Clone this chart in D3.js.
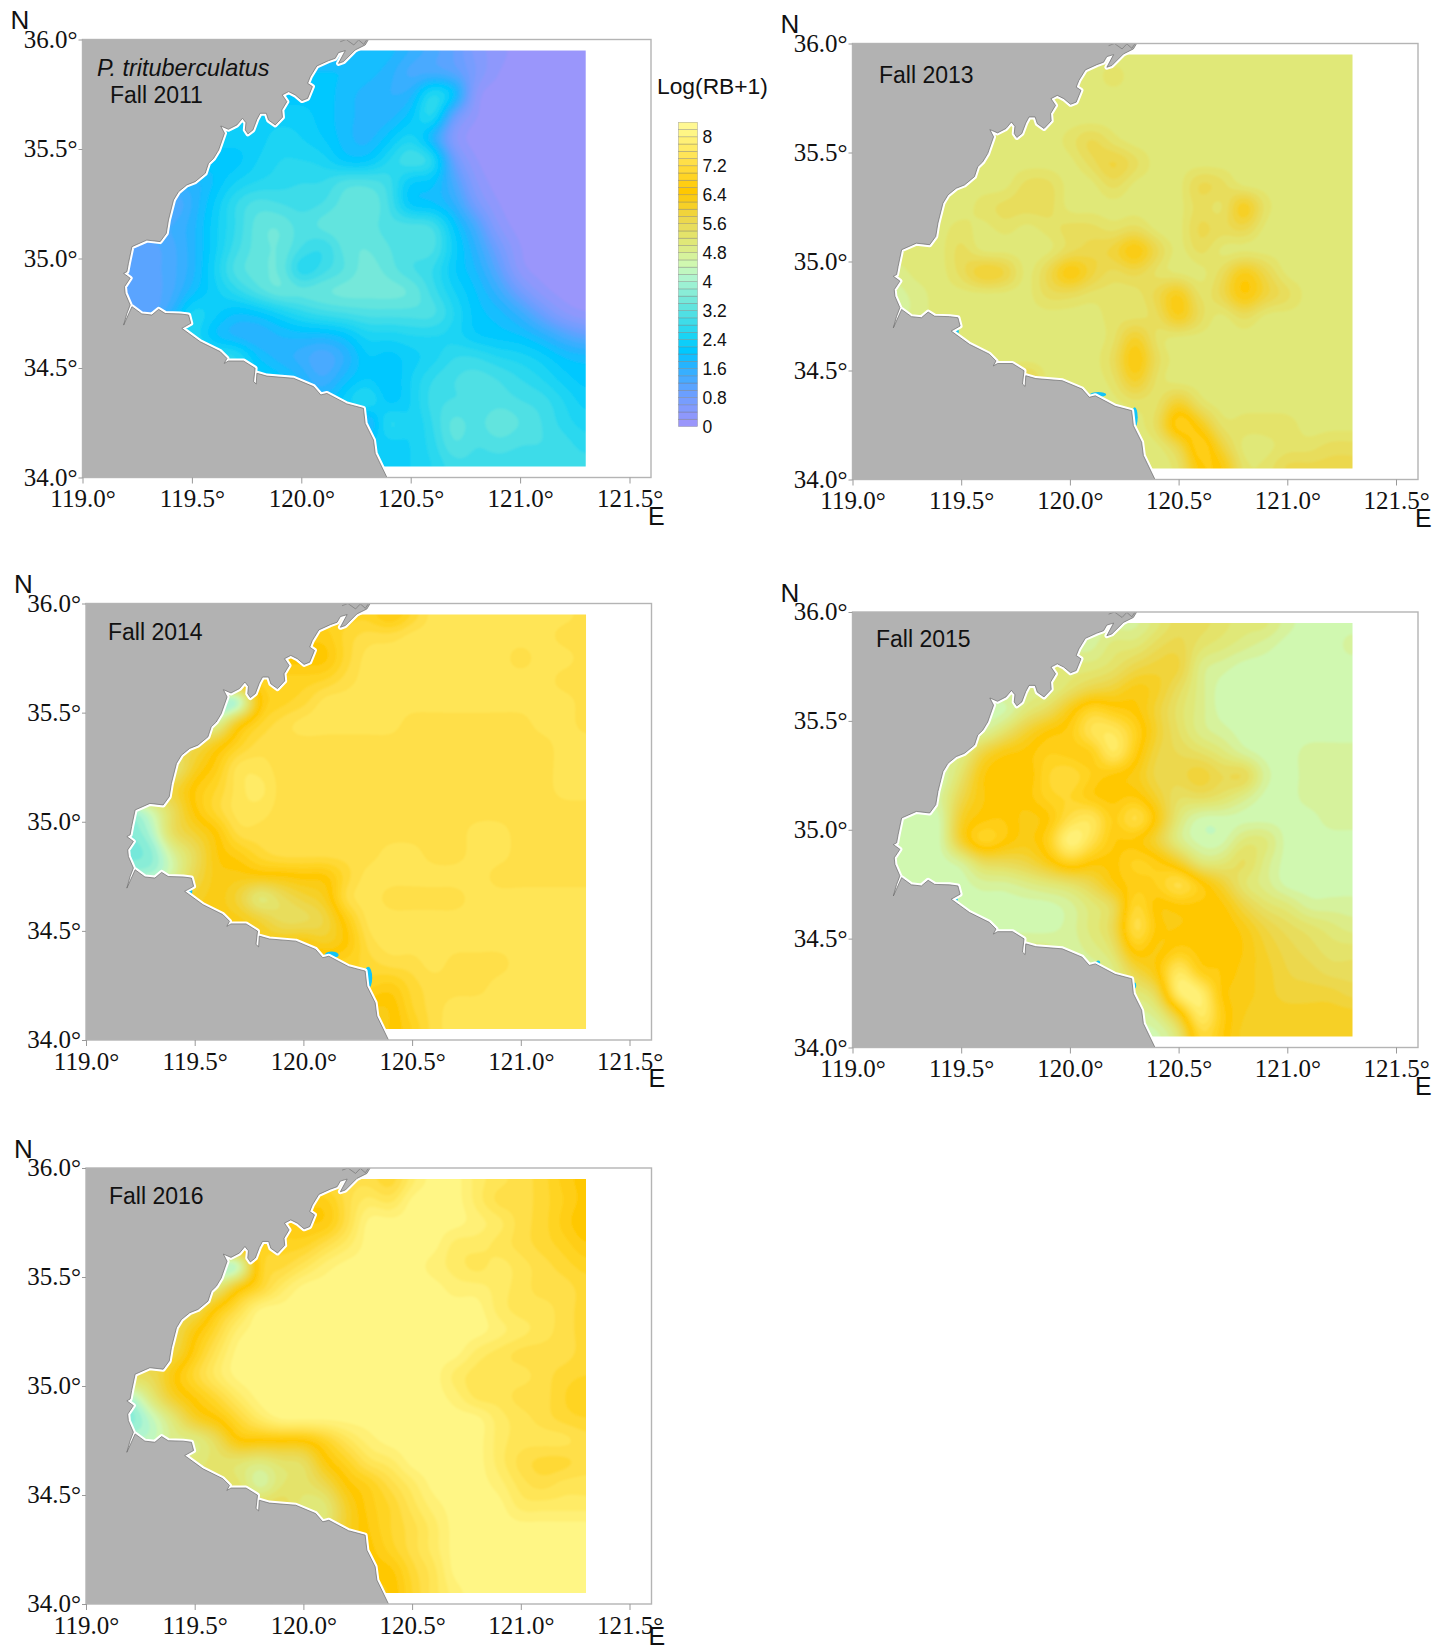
<!DOCTYPE html>
<html>
<head>
<meta charset="utf-8">
<script src="https://cdn.jsdelivr.net/npm/d3@7"></script>
<style>
body { margin: 0; background: #fff; }
svg { display: block; }
</style>
</head>
<body>
<div id="chart"></div>
<script>
let width = 1447;
let height = 1650;

// grid nodes, 0.1 deg apart
const gridStepDeg = 0.1;
const gridLon0 = 119.0;
const gridLat0 = 35.95;

// Log(RB+1), rows north to south, columns 119.0 to 121.3 (land cells repeat the nearest sea value)
const fall2011 = [
[1.8,1.8,1.8,1.8,1.8,1.8,1.8,1.8,1.8,1.8,1.8,1.8,1.8,1.8,1.8,1.5,1.2,0.9,0.4,0.2,0,0,0,0],
[1.9,1.9,1.9,1.9,1.9,1.9,1.9,1.9,1.9,1.9,1.9,1.9,1.9,1.8,1.6,1.2,1.2,1.0,0.5,0.1,0,0,0,0],
[2.0,2.0,2.0,2.0,2.0,2.0,2.0,2.0,2.0,2.0,2.0,2.0,1.8,1.6,1.5,1.6,2.6,2.0,0.2,0,0,0,0,0],
[2.2,2.2,2.2,2.2,2.2,2.2,2.2,2.2,2.2,2.2,2.2,2.0,1.8,1.6,1.6,2.0,2.6,0.8,0.1,0,0,0,0,0],
[2.2,2.2,2.2,2.2,2.2,2.2,2.2,2.2,2.2,2.4,2.3,2.1,1.8,1.6,2.0,2.4,1.6,0.3,0,0,0,0,0,0],
[2.0,2.0,2.0,2.0,2.0,2.0,2.0,2.0,2.3,2.5,2.5,2.4,2.0,2.0,2.5,2.9,2.6,0.8,0.1,0,0,0,0,0],
[1.6,1.6,1.6,1.6,1.6,1.6,1.9,2.3,2.5,2.6,2.7,2.7,3.0,3.0,2.8,2.1,2.0,1.2,0.3,0,0,0,0,0],
[1.0,1.0,1.0,1.0,1.0,1.5,2.1,2.7,3.0,2.9,2.8,2.9,3.2,3.3,2.9,2.0,1.9,1.5,0.6,0.1,0,0,0,0],
[1.3,1.3,1.3,1.3,1.3,1.6,2.2,2.7,3.2,3.3,3.0,3.2,3.3,3.2,3.0,3.0,2.9,2.0,1.2,0.3,0,0,0,0],
[1.0,1.0,1.0,1.0,1.2,1.6,2.2,2.8,3.2,3.3,2.9,2.7,3.2,3.3,3.1,3.0,3.0,2.2,1.5,0.7,0.1,0,0,0],
[1.0,1.0,1.0,1.0,1.2,1.6,2.3,3.0,3.2,3.3,2.5,2.8,3.1,3.4,3.2,2.9,2.7,2.1,1.7,1.0,0.2,0,0,0],
[1.0,1.0,1.0,1.0,1.2,1.8,2.2,2.6,3.0,3.3,3.2,3.3,3.4,3.4,3.4,3.3,2.8,2.3,1.9,1.4,0.7,0.2,0,0],
[1.0,1.0,1.0,1.0,1.5,2.4,2.2,1.9,2.0,2.3,2.6,2.8,2.9,3.0,3.0,3.0,3.0,2.5,2.0,1.8,1.4,0.8,0.3,0.1],
[2.5,2.5,2.5,2.5,2.5,2.5,1.9,1.6,1.5,1.7,1.8,1.8,2.0,2.4,2.4,2.5,2.5,2.4,2.1,2.0,1.9,1.6,1.2,0.9],
[2.6,2.6,2.6,2.6,2.6,2.6,2.6,2.6,1.9,1.6,1.4,1.1,1.5,2.1,2.0,2.2,2.4,2.7,2.7,2.5,2.4,2.2,1.9,1.8],
[2.2,2.2,2.2,2.2,2.2,2.2,2.2,2.2,2.2,2.0,1.7,1.3,1.8,2.1,1.9,2.3,2.7,2.9,3.0,2.9,2.7,2.5,2.2,2.0],
[1.8,1.8,1.8,1.8,1.8,1.8,1.8,1.8,1.8,1.8,1.8,1.8,2.2,2.6,2.0,2.3,2.8,2.9,2.9,3.0,2.9,2.8,2.5,2.2],
[2.0,2.0,2.0,2.0,2.0,2.0,2.0,2.0,2.0,2.0,2.0,2.0,2.0,1.5,2.6,2.3,2.7,3.2,3.0,3.3,3.1,2.9,2.6,2.4],
[2.2,2.2,2.2,2.2,2.2,2.2,2.2,2.2,2.2,2.2,2.2,2.2,2.2,2.2,2.2,2.3,2.6,3.1,2.9,3.0,2.9,2.9,2.8,2.6],
[2.2,2.2,2.2,2.2,2.2,2.2,2.2,2.2,2.2,2.2,2.2,2.2,2.2,2.2,2.2,2.3,2.5,2.8,2.8,2.8,2.8,2.8,2.8,2.8]
];

const fall2013 = [
[5.0,5.0,5.0,5.0,5.0,5.0,5.0,5.0,5.0,5.0,5.0,5.0,5.0,5.0,5.0,5.0,5.0,5.0,5.0,5.0,5.0,5.0,5.0,5.0],
[5.0,5.0,5.0,5.0,5.0,5.0,5.0,5.0,5.0,5.0,5.0,5.0,5.2,5.0,5.0,5.0,5.0,5.0,5.0,5.0,5.0,5.0,5.0,5.0],
[5.0,5.0,5.0,5.0,5.0,5.0,5.0,5.0,5.0,5.0,5.0,5.0,5.0,5.0,5.0,5.0,5.0,5.0,5.0,5.0,5.0,5.0,5.0,5.0],
[5.0,5.0,5.0,5.0,5.0,5.0,5.0,5.0,5.0,5.0,5.0,5.0,5.0,5.0,5.0,5.0,5.0,5.0,5.0,5.0,5.0,5.0,5.0,5.0],
[5.0,5.0,5.0,5.0,5.0,5.0,5.0,5.0,5.0,5.0,5.2,5.6,5.2,5.0,5.0,5.0,5.0,5.0,5.0,5.0,5.0,5.0,5.0,5.0],
[5.0,5.0,5.0,5.0,5.0,5.0,5.0,5.0,5.0,5.0,5.0,5.4,5.8,5.4,5.0,5.0,5.0,5.0,5.0,5.0,5.0,5.0,5.0,5.0],
[5.0,5.0,5.0,5.0,5.0,5.0,5.0,5.0,5.4,5.4,5.0,5.0,5.4,5.0,5.0,5.0,5.6,5.4,5.0,5.0,5.0,5.0,5.0,5.0],
[5.0,5.0,5.0,5.0,5.0,5.0,5.2,5.4,5.4,5.4,5.0,5.0,5.0,5.0,5.0,5.0,5.4,5.2,6.2,5.2,5.0,5.0,5.0,5.0],
[5.0,5.0,5.0,5.0,5.0,5.2,5.0,5.2,5.0,5.2,5.4,5.4,5.2,5.4,5.0,5.0,5.6,5.4,5.6,5.0,5.0,5.0,5.0,5.0],
[5.0,5.0,5.0,5.0,5.0,5.4,5.0,5.0,5.0,5.0,5.4,5.6,5.8,6.4,5.6,5.0,5.4,5.0,5.0,5.0,5.0,5.0,5.0,5.0],
[5.0,5.0,4.8,5.0,5.0,5.4,6.0,5.8,5.0,5.6,6.4,5.8,5.4,5.6,5.2,5.0,5.0,5.4,6.2,5.6,5.0,5.0,5.0,5.0],
[4.6,4.6,4.6,4.8,5.0,5.0,5.0,5.0,5.0,5.4,5.4,5.2,5.2,5.2,5.6,6.2,5.2,5.6,6.4,5.8,5.4,5.0,5.0,5.0],
[4.6,4.6,4.6,4.8,5.0,5.0,5.0,5.0,5.0,5.0,5.0,5.0,5.2,5.2,5.4,6.2,5.4,5.0,5.4,5.0,5.0,5.0,5.0,5.0],
[5.0,5.0,5.0,5.0,5.0,5.0,5.0,5.0,5.0,5.0,5.0,5.0,5.2,6.0,5.2,5.0,5.0,5.0,5.0,5.0,5.0,5.0,5.0,5.0],
[5.0,5.0,5.0,5.0,5.0,5.0,5.0,5.0,5.0,5.0,5.0,5.0,5.4,6.4,5.4,5.0,5.0,5.0,5.0,5.0,5.0,5.0,5.0,5.0],
[5.0,5.0,5.0,5.0,5.0,5.0,5.0,5.2,5.8,5.0,5.0,5.0,5.2,6.0,5.2,5.0,5.0,5.0,5.0,5.0,5.0,5.0,5.0,5.0],
[5.0,5.0,5.0,5.0,5.0,5.0,5.0,5.0,5.0,5.0,5.0,5.0,5.0,5.2,5.2,6.0,5.2,5.0,5.0,5.0,5.0,5.0,5.0,5.0],
[5.0,5.0,5.0,5.0,5.0,5.0,5.0,5.0,5.0,5.0,5.0,5.0,5.0,5.0,5.4,6.8,6.2,5.2,5.2,5.2,5.2,5.0,5.0,5.0],
[5.0,5.0,5.0,5.0,5.0,5.0,5.0,5.0,5.0,5.0,5.0,5.0,5.0,5.0,5.0,5.6,6.8,5.8,5.0,5.0,5.2,5.2,5.4,5.4],
[5.0,5.0,5.0,5.0,5.0,5.0,5.0,5.0,5.0,5.0,5.0,5.0,5.0,5.0,5.0,5.2,6.4,6.4,5.2,5.2,5.6,5.6,5.6,5.6]
];

const fall2014 = [
[6.8,6.8,6.8,6.8,6.8,6.8,6.8,6.8,6.8,6.8,6.8,6.8,6.8,6.8,6.4,6.9,7.4,7.4,7.4,7.4,7.4,7.4,7.4,7.2],
[6.6,6.6,6.6,6.6,6.6,6.6,6.6,6.6,6.6,6.6,6.6,6.6,7.0,7.2,7.2,7.4,7.4,7.4,7.4,7.4,7.4,7.4,7.2,7.2],
[6.4,6.4,6.4,6.4,6.4,6.4,6.4,6.4,6.4,6.4,6.4,6.4,7.0,7.4,7.4,7.4,7.4,7.4,7.4,7.4,7.2,7.4,7.4,7.2],
[6.8,6.8,6.8,6.8,6.8,6.8,6.8,6.8,6.8,6.8,6.8,6.9,7.2,7.4,7.4,7.4,7.4,7.4,7.4,7.4,7.4,7.4,7.2,7.2],
[3.8,3.8,3.8,3.8,3.8,3.8,3.8,3.8,6.4,6.8,7.0,7.4,7.4,7.4,7.4,7.4,7.4,7.4,7.4,7.4,7.4,7.4,7.4,7.2],
[4.6,4.6,4.6,4.6,4.6,4.6,4.6,6.2,6.9,7.2,7.4,7.4,7.4,7.4,7.4,7.2,7.2,7.2,7.2,7.2,7.2,7.4,7.4,7.2],
[5.6,5.6,5.6,5.6,5.6,5.6,6.2,6.8,7.2,7.2,7.2,7.2,7.2,7.2,7.2,7.2,7.2,7.2,7.2,7.2,7.2,7.2,7.4,7.4],
[5.0,5.0,5.0,5.0,5.0,6.0,6.6,7.4,7.4,7.2,7.2,7.2,7.2,7.2,7.2,7.2,7.2,7.2,7.2,7.2,7.2,7.2,7.4,7.4],
[5.8,5.8,5.8,5.8,5.8,6.5,6.9,7.4,7.6,7.2,7.2,7.2,7.2,7.2,7.2,7.2,7.2,7.2,7.2,7.2,7.2,7.2,7.4,7.4],
[3.8,3.8,3.8,4.4,5.4,6.4,7.0,7.4,7.4,7.2,7.2,7.2,7.2,7.2,7.2,7.2,7.2,7.2,7.2,7.2,7.2,7.2,7.2,7.2],
[3.5,3.5,3.5,4.0,5.4,5.9,6.4,7.2,7.2,7.2,7.2,7.2,7.2,7.2,7.2,7.2,7.2,7.2,7.4,7.4,7.2,7.2,7.2,7.2],
[3.4,3.4,3.4,3.6,4.6,5.4,6.3,6.6,7.0,7.2,7.2,7.2,7.2,7.2,7.4,7.4,7.2,7.2,7.4,7.4,7.2,7.2,7.2,7.2],
[4.0,4.0,4.0,4.0,4.6,5.6,6.2,6.2,6.3,6.3,6.4,6.4,7.0,7.4,7.4,7.4,7.4,7.4,7.4,7.2,7.2,7.2,7.2,7.2],
[6.0,6.0,6.0,6.0,6.0,6.0,6.2,5.8,4.9,5.4,5.8,6.1,7.2,7.4,7.2,7.2,7.2,7.2,7.4,7.4,7.4,7.4,7.4,7.4],
[6.2,6.2,6.2,6.2,6.2,6.2,6.2,6.2,5.9,5.4,5.4,5.7,6.6,7.4,7.4,7.4,7.4,7.4,7.4,7.4,7.4,7.4,7.4,7.4],
[6.2,6.2,6.2,6.2,6.2,6.2,6.2,6.2,6.2,6.2,6.3,6.0,6.4,7.2,7.4,7.4,7.4,7.4,7.4,7.4,7.4,7.4,7.4,7.4],
[6.8,6.8,6.8,6.8,6.8,6.8,6.8,6.8,6.8,6.8,6.8,6.8,6.8,7.0,7.2,7.2,7.4,7.2,7.2,7.2,7.4,7.4,7.4,7.4],
[6.8,6.8,6.8,6.8,6.8,6.8,6.8,6.8,6.8,6.8,6.8,6.8,6.8,6.8,6.6,7.0,7.2,7.2,7.2,7.4,7.4,7.4,7.4,7.4],
[6.3,6.3,6.3,6.3,6.3,6.3,6.3,6.3,6.3,6.3,6.3,6.3,6.3,6.3,6.3,6.9,7.2,7.4,7.4,7.4,7.4,7.4,7.4,7.4],
[6.3,6.3,6.3,6.3,6.3,6.3,6.3,6.3,6.3,6.3,6.3,6.3,6.3,6.3,6.3,6.7,7.2,7.4,7.4,7.4,7.4,7.4,7.4,7.4]
];

const fall2015 = [
[4.6,4.6,4.6,4.6,4.6,4.6,4.6,4.6,4.6,4.6,4.6,4.6,4.6,4.6,5.0,5.4,5.4,5.2,5.0,5.0,4.6,4.4,4.4,4.4],
[4.6,4.6,4.6,4.6,4.6,4.6,4.6,4.6,4.6,4.6,4.6,4.6,5.0,5.0,5.4,5.6,5.2,5.0,4.8,4.6,4.4,4.4,4.4,4.6],
[5.0,5.0,5.0,5.0,5.0,5.0,5.0,5.0,5.0,5.0,5.0,5.0,5.2,5.6,5.8,5.8,4.8,4.6,4.4,4.4,4.4,4.4,4.4,4.4],
[4.8,4.8,4.8,4.8,4.8,4.8,4.8,4.8,4.8,4.8,5.2,5.6,5.8,6.2,6.0,5.4,4.8,4.4,4.4,4.4,4.4,4.4,4.4,4.4],
[4.4,4.4,4.4,4.4,4.4,4.4,4.4,4.4,5.0,5.4,6.2,6.9,6.6,6.4,5.8,5.2,4.8,4.4,4.4,4.4,4.4,4.4,4.4,4.4],
[4.6,4.6,4.6,4.6,4.6,4.6,4.6,5.2,5.9,6.4,6.6,7.4,7.5,6.8,5.9,5.3,4.8,4.6,4.4,4.4,4.4,4.4,4.4,4.4],
[4.8,4.8,4.8,4.8,4.8,4.8,5.8,6.3,6.4,6.7,6.6,6.6,7.6,6.6,5.7,5.5,5.3,5.0,4.6,4.4,4.4,4.6,4.6,4.6],
[4.4,4.4,4.4,4.4,4.4,5.2,6.3,6.5,6.3,6.9,7.1,6.7,6.4,6.2,5.6,5.6,5.9,5.5,5.6,4.6,4.4,4.6,4.6,4.6],
[4.6,4.6,4.6,4.6,4.6,5.6,6.3,6.3,6.4,6.8,6.9,6.5,6.4,6.5,5.9,5.3,5.4,5.2,4.8,4.4,4.4,4.6,4.6,4.6],
[4.4,4.4,4.4,4.4,4.4,6.0,6.4,6.5,6.2,6.4,7.2,7.5,6.6,7.3,6.3,5.0,4.4,4.4,4.4,4.4,4.4,4.4,4.6,4.6],
[4.4,4.4,4.4,4.4,4.4,6.0,6.9,6.5,6.2,6.7,8.0,7.3,6.5,6.4,5.8,4.8,4.4,4.4,5.0,5.0,4.4,4.4,4.4,4.4],
[4.4,4.4,4.4,4.4,4.4,4.6,5.4,5.5,5.7,6.2,6.8,6.4,6.4,6.8,6.6,6.0,5.0,5.0,5.4,4.8,4.4,4.4,4.4,4.4],
[4.4,4.4,4.4,4.4,4.4,4.4,4.6,4.6,4.8,5.0,5.2,5.6,6.3,6.6,6.7,7.3,6.6,5.9,5.1,4.8,4.4,4.4,4.4,4.4],
[4.4,4.4,4.4,4.4,4.4,4.4,4.4,4.4,4.4,4.4,4.6,5.0,5.4,7.0,6.3,6.4,6.4,6.4,5.7,5.2,5.0,4.6,4.6,4.6],
[4.4,4.4,4.4,4.4,4.4,4.4,4.4,4.4,4.4,4.4,4.6,5.0,5.5,7.3,6.4,6.3,6.4,6.5,6.2,5.7,5.4,5.2,5.0,4.8],
[4.8,4.8,4.8,4.8,4.8,4.8,4.8,4.8,4.8,4.8,4.6,4.8,5.2,6.6,6.2,6.6,6.4,6.5,6.3,5.9,5.6,5.4,5.2,5.2],
[4.6,4.6,4.6,4.6,4.6,4.6,4.6,4.6,4.6,4.6,4.6,4.6,4.8,5.7,6.3,7.6,6.6,6.5,6.2,6.0,5.7,5.6,5.4,5.4],
[5.0,5.0,5.0,5.0,5.0,5.0,5.0,5.0,5.0,5.0,5.0,5.0,5.0,5.0,5.5,7.8,7.8,6.4,6.2,6.0,5.8,5.8,5.8,5.6],
[4.6,4.6,4.6,4.6,4.6,4.6,4.6,4.6,4.6,4.6,4.6,4.6,4.6,4.6,4.8,6.0,7.7,6.6,6.1,6.0,6.0,6.0,6.0,6.0],
[4.4,4.4,4.4,4.4,4.4,4.4,4.4,4.4,4.4,4.4,4.4,4.4,4.4,4.4,4.4,5.0,7.0,6.5,6.0,6.0,6.0,6.0,6.0,6.0]
];

const fall2016 = [
[7.2,7.2,7.2,7.2,7.2,7.2,7.2,7.2,7.2,7.2,7.2,7.2,7.2,7.2,6.9,7.6,8,8,7.6,7.4,7.2,7.0,6.6,6.4],
[6.6,6.6,6.6,6.6,6.6,6.6,6.6,6.6,6.6,6.6,6.6,6.6,7.2,7.6,7.4,8,8,8,7.6,7.2,7.2,7.0,6.7,6.4],
[6.5,6.5,6.5,6.5,6.5,6.5,6.5,6.5,6.5,6.5,6.5,6.5,7.2,8,8,8,8,8,7.8,7.6,7.2,7.0,6.6,6.3],
[6.8,6.8,6.8,6.8,6.8,6.8,6.8,6.8,6.8,6.8,6.8,7.2,7.6,8,8,8,8,7.6,7.6,7.4,7.2,7.0,6.8,6.5],
[4.0,4.0,4.0,4.0,4.0,4.0,4.0,4.0,6.8,7.0,7.4,7.8,8,8,8,8,7.8,7.6,7.4,7.6,7.4,7.2,7.0,6.8],
[5.0,5.0,5.0,5.0,5.0,5.0,5.0,6.3,6.9,7.6,8,8,8,8,8,8,8,7.8,7.8,7.6,7.4,7.2,7.2,7.0],
[5.5,5.5,5.5,5.5,5.5,5.5,6.5,7.2,8,8,8,8,8,8,8,8,8,8,8,7.6,7.4,7.4,7.2,7.0],
[5.5,5.5,5.5,5.5,5.5,6.3,7.0,7.8,8,8,8,8,8,8,8,8,8,8,8,7.8,7.6,7.4,7.2,7.0],
[5.7,5.7,5.7,5.7,5.7,6.6,7.4,8,8,8,8,8,8,8,8,8,8,8,7.6,7.4,7.2,7.2,7.2,7.0],
[5.5,5.5,5.5,5.5,6.3,7.0,7.6,8,8,8,8,8,8,8,8,8,8,7.6,7.4,7.4,7.4,7.2,7.0,6.9],
[4.0,4.0,4.0,5.0,6.0,6.5,7.0,7.6,8,8,8,8,8,8,8,8,8,7.8,7.4,7.4,7.2,7.2,6.9,6.7],
[3.5,3.5,3.5,4.2,5.0,6.0,6.4,7.0,7.6,8,8,8,8,8,8,8,8,8,8,7.6,7.4,7.2,7.0,6.9],
[4.2,4.2,4.2,4.2,4.8,4.8,5.4,6.4,6.4,6.4,6.4,6.8,7.4,7.8,8,8,8,8,8,7.6,7.4,7.4,7.4,7.2],
[5.0,5.0,5.0,5.0,5.0,5.0,5.2,5.1,4.9,5.2,5.3,6.3,6.8,7.4,7.6,8,8,8,8,7.6,7.2,7.0,7.0,7.2],
[5.2,5.2,5.2,5.2,5.2,5.2,5.2,5.2,4.5,5.1,5.2,5.6,6.4,6.7,7.2,7.6,8,8,8,7.8,7.4,7.2,7.4,7.4],
[5.4,5.4,5.4,5.4,5.4,5.4,5.4,5.4,5.4,5.5,5.0,5.0,6.0,6.6,6.9,7.4,7.8,8,8,8,7.6,7.6,7.6,7.6],
[5.2,5.2,5.2,5.2,5.2,5.2,5.2,5.2,5.2,5.2,5.2,5.2,6.0,6.5,6.9,7.2,7.6,8,8,8,8,8,8,8],
[6.4,6.4,6.4,6.4,6.4,6.4,6.4,6.4,6.4,6.4,6.4,6.4,6.4,6.4,6.8,7.2,7.6,8,8,8,8,8,8,8],
[6.4,6.4,6.4,6.4,6.4,6.4,6.4,6.4,6.4,6.4,6.4,6.4,6.4,6.4,6.4,7.0,7.4,8,8,8,8,8,8,8],
[6.3,6.3,6.3,6.3,6.3,6.3,6.3,6.3,6.3,6.3,6.3,6.3,6.3,6.3,6.3,6.9,7.4,7.8,8,8,8,8,8,8]
];

// coast, north end to south end
const coastLon = [120.307,120.292,120.246,120.193,120.170,120.201,120.170,120.155,120.124,120.071,120.041,120.029,120.051,120.029,120.003,119.972,119.942,119.913,119.934,119.911,119.914,119.881,119.850,119.840,119.812,119.797,119.779,119.756,119.744,119.747,119.731,119.706,119.667,119.632,119.649,119.622,119.599,119.576,119.561,119.515,119.477,119.439,119.416,119.393,119.383,119.355,119.294,119.226,119.210,119.203,119.188,119.218,119.192,119.195,119.218,119.203,119.188,119.226,119.271,119.317,119.348,119.378,119.447,119.485,119.495,119.454,119.538,119.629,119.660,119.648,119.667,119.736,119.789,119.782,119.794,119.797,119.843,119.965,120.056,120.089,120.117,120.208,120.284,120.292,120.330,120.338,120.391];
const coastLat = [36.000,35.975,35.952,35.899,35.891,35.949,35.940,35.914,35.903,35.879,35.830,35.800,35.785,35.731,35.721,35.747,35.762,35.747,35.716,35.678,35.645,35.610,35.632,35.663,35.663,35.635,35.587,35.569,35.587,35.620,35.640,35.610,35.590,35.605,35.572,35.495,35.457,35.435,35.389,35.351,35.336,35.305,35.267,35.176,35.115,35.077,35.084,35.054,34.978,34.940,34.932,34.910,34.871,34.841,34.788,34.749,34.696,34.780,34.747,34.742,34.768,34.749,34.747,34.742,34.704,34.681,34.620,34.575,34.544,34.521,34.532,34.532,34.499,34.438,34.427,34.476,34.463,34.453,34.415,34.377,34.384,34.336,34.316,34.247,34.171,34.110,34.001];

// small island outlines at the top edge
const islandLon = [120.178,120.205,120.240,120.262,120.285,120.300];
const islandLat = [35.990,36.000,35.975,35.998,35.978,36.000];

const lonTicks = [119.0,119.5,120.0,120.5,121.0,121.5];
const latTicks = [34.0,34.5,35.0,35.5,36.0];

const panelNames = ["Fall 2011","Fall 2013","Fall 2014","Fall 2015","Fall 2016"];
const panelGrids = [fall2011,fall2013,fall2014,fall2015,fall2016];

// plot frames in page pixels
const panelLeft = [82.5,852.5,86,852.5,86];
const panelTop = [39.5,43.5,603.5,612,1168];
const panelBottom = [477.5,479.5,1040,1047.5,1604];
const panelRight = [651,1418,651.5,1418,651.5];
const pxPerDeg = [218.8,217.4,217.4,217.4,217.4];
const titleX = [110,879,108,876,109];
const titleY = [103,83,640,647,1204];

// cyan patches hugging the shore: lon, lat, size per panel
const spotLon = [119.475,120.13,120.298];
const spotLat = [34.68,34.39,34.285];
const spotRx = [[0,3,3,2,0],[0,8,7,2,0],[0,3,4,1.5,0]];
const spotRy = [[0,4,4,2,0],[0,2.5,3.5,2,0],[0,10,11,3,0]];

const legendTicks = [0,0.8,1.6,2.4,3.2,4,4.8,5.6,6.4,7.2,8];
const levelCount = 42; // 0.2 wide bands, 0 to 8.4
const levels = d3.range(levelCount).map(i => +(i * 0.2).toFixed(1));

const colorStops = [0,0.8,1.6,2.0,2.4,3.2,4.0,4.4,4.8,5.0,5.6,6.4,7.2,8.0,8.4];
const colorHex = ["#9a96fb","#6b9fff","#25b4ff","#00c8ff","#1ad4f4","#62e4de","#b0f5cf","#d0f8b0","#dcec88","#e0e878","#ecd84e","#ffc800","#ffdf48","#fff685","#fffaa0"];

var color = d3.scaleLinear().domain(colorStops).range(colorHex);

let svg = d3.select("#chart")
    .append("svg")
    .attr("width", width)
    .attr("height", height);

const defs = svg.append("defs");
defs.append("filter")
    .attr("id", "soft")
    .attr("x", "-5%").attr("y", "-5%").attr("width", "110%").attr("height", "110%")
    .append("feGaussianBlur")
    .attr("stdDeviation", 0.9);

// catmull-rom resample of the grid, only so the bands come out round
function resample(grid, k) {
    const m = grid.length, n = grid[0].length;
    const cub = (a, b, c, d, t) => b + 0.5 * t * (c - a + t * (2 * a - 5 * b + 4 * c - d + t * (3 * (b - c) + d - a)));
    const nn = (n - 1) * k + 1, mm = (m - 1) * k + 1;
    const out = new Float64Array(nn * mm);
    const clampi = (i, hi) => Math.max(0, Math.min(hi, i));
    for (let y = 0; y < mm; y++) {
        const fy = y / k, y1 = Math.min(Math.floor(fy), m - 2), ty = fy - y1;
        for (let x = 0; x < nn; x++) {
            const fx = x / k, x1 = Math.min(Math.floor(fx), n - 2), tx = fx - x1;
            const col = [];
            for (let j = -1; j <= 2; j++) {
                const row = grid[clampi(y1 + j, m - 1)];
                col.push(cub(row[clampi(x1 - 1, n - 1)], row[clampi(x1, n - 1)], row[clampi(x1 + 1, n - 1)], row[clampi(x1 + 2, n - 1)], tx));
            }
            out[y * nn + x] = Math.max(0, cub(col[0], col[1], col[2], col[3], ty));
        }
    }
    if (d3.blur2) d3.blur2({ data: out, width: nn }, 1);
    return { values: out, n: nn, m: mm };
}

const upsample = 6;
// band edges sit halfway between levels, first one catches everything
const bandEdges = levels.map((v, i) => i === 0 ? -1 : v - 0.1);

panelGrids.forEach((grid, p) => {
    const x = d3.scaleLinear().domain([119, 119 + (panelRight[p] - panelLeft[p]) / pxPerDeg[p]]).range([panelLeft[p], panelRight[p]]);
    const y = d3.scaleLinear().domain([34, 36]).range([panelBottom[p], panelTop[p]]);
    const g = svg.append("g");

    defs.append("clipPath").attr("id", "data" + p)
        .append("rect")
        .attr("x", x(gridLon0)).attr("y", y(gridLat0))
        .attr("width", x(121.3) - x(gridLon0)).attr("height", y(34.05) - y(gridLat0));
    defs.append("clipPath").attr("id", "frame" + p)
        .append("rect")
        .attr("x", panelLeft[p]).attr("y", panelTop[p])
        .attr("width", panelRight[p] - panelLeft[p]).attr("height", panelBottom[p] - panelTop[p]);

    const fine = resample(grid, upsample);
    const bands = d3.contours().size([fine.n, fine.m]).thresholds(bandEdges)(fine.values);
    const project = d3.geoTransform({
        point(cx, cy) {
            this.stream.point(
                x(gridLon0 + (cx - 0.5) / upsample * gridStepDeg),
                y(gridLat0 - (cy - 0.5) / upsample * gridStepDeg));
        }
    });
    const path = d3.geoPath(project);

    const field = g.append("g").attr("clip-path", `url(#data${p})`)
        .append("g").attr("filter", "url(#soft)");
    field.selectAll("path")
        .data(bands)
        .join("path")
        .attr("d", path)
        .attr("fill", (d, i) => color(levels[i]));

    // shore patches
    g.append("g").attr("clip-path", `url(#data${p})`)
        .selectAll("ellipse")
        .data(spotLon.map((lon, i) => ({ lon, lat: spotLat[i], rx: spotRx[i][p], ry: spotRy[i][p] })).filter(d => d.rx > 0))
        .join("ellipse")
        .attr("cx", d => x(d.lon)).attr("cy", d => y(d.lat))
        .attr("rx", d => d.rx).attr("ry", d => d.ry)
        .attr("fill", "#12c4f8");

    const coast = coastLon.map((lon, i) => [x(lon), y(coastLat[i])]);
    const land = coast.concat([[x(119), y(34)], [x(119), y(36)]]);
    const line = d3.line();
    const landLayer = g.append("g").attr("clip-path", `url(#frame${p})`);
    landLayer.append("path").attr("d", line(coast))
        .attr("fill", "none").attr("stroke", "#fff").attr("stroke-width", 5).attr("stroke-linejoin", "round");
    landLayer.append("path").attr("d", line(land) + "Z").attr("fill", "#b2b2b2");
    landLayer.append("path").attr("d", line(coast))
        .attr("fill", "none").attr("stroke", "#6a6a6a").attr("stroke-width", 0.7);
    landLayer.append("path").attr("d", line(islandLon.map((lon, i) => [x(lon), y(islandLat[i])])))
        .attr("fill", "none").attr("stroke", "#777").attr("stroke-width", 0.7);

    g.append("rect")
        .attr("x", panelLeft[p]).attr("y", panelTop[p])
        .attr("width", panelRight[p] - panelLeft[p]).attr("height", panelBottom[p] - panelTop[p])
        .attr("fill", "none").attr("stroke", "#b4b4b4").attr("stroke-width", 1.4);

    const xAxis = g.append("g")
        .attr("transform", `translate(0,${panelBottom[p]})`)
        .call(d3.axisBottom(x).tickValues(lonTicks).tickSize(6).tickPadding(6).tickFormat(d => d.toFixed(1) + "°"));
    const yAxis = g.append("g")
        .attr("transform", `translate(${panelLeft[p]},0)`)
        .call(d3.axisLeft(y).tickValues(latTicks).tickSize(4).tickPadding(1).tickFormat(d => d.toFixed(1) + "°"));
    [xAxis, yAxis].forEach(a => {
        a.select(".domain").remove();
        a.selectAll("line").attr("stroke", "#999");
        a.selectAll("text")
            .attr("fill", "#111")
            .style("font-family", "'Liberation Serif'")
            .style("font-size", "25px");
    });
    yAxis.selectAll("text").attr("dy", "0.3em");

    const sans = (sel, size) => sel.style("font-family", "'Liberation Sans'").style("font-size", size + "px").attr("fill", "#111");
    g.append("text").attr("x", panelLeft[p] - 72).attr("y", panelTop[p] - 10.5).text("N").call(sans, 26);
    g.append("text").attr("x", panelRight[p] - 3).attr("y", Math.min(panelBottom[p] + 47, 1645)).text("E").call(sans, 25);
    g.append("text").attr("x", titleX[p]).attr("y", titleY[p]).text(panelNames[p]).call(sans, 23);
    if (p === 0) {
        g.append("text").attr("x", 97).attr("y", 76).text("P. trituberculatus")
            .call(sans, 23.4).style("font-style", "italic");
    }
});

// colour bar
const legendX = 678.5, legendW = 19;
const legendY = d3.scaleLinear().domain([0, 8.4]).range([426.5, 122.3]);
const legend = svg.append("g");
legend.selectAll("rect")
    .data(levels)
    .join("rect")
    .attr("x", legendX)
    .attr("y", d => legendY(d + 0.2))
    .attr("width", legendW)
    .attr("height", d => legendY(d) - legendY(d + 0.2))
    .attr("fill", d => color(d))
    .attr("stroke", "#777")
    .attr("stroke-opacity", 0.55)
    .attr("stroke-width", 0.6);
legend.selectAll("text.tick")
    .data(legendTicks)
    .join("text")
    .attr("class", "tick")
    .attr("x", legendX + legendW + 5)
    .attr("y", d => legendY(d))
    .attr("dy", "0.36em")
    .style("font-family", "'Liberation Sans'")
    .style("font-size", "17.5px")
    .attr("fill", "#111")
    .text(d => d);
legend.append("text")
    .attr("x", 657).attr("y", 94)
    .style("font-family", "'Liberation Sans'")
    .style("font-size", "22.8px")
    .attr("fill", "#111")
    .text("Log(RB+1)");
</script>
</body>
</html>
